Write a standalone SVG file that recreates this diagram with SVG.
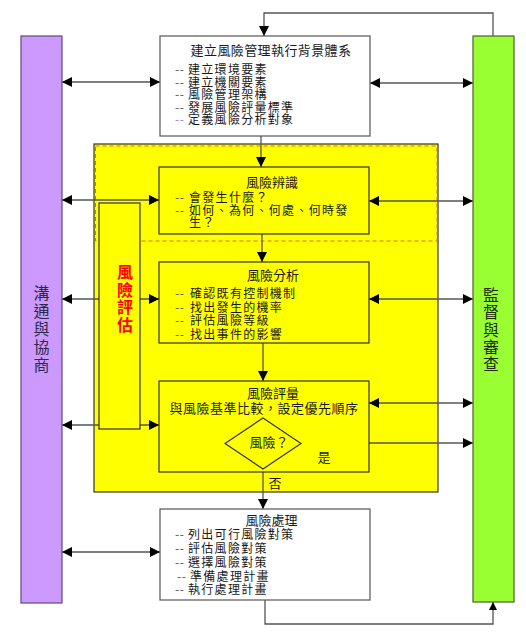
<svg xmlns="http://www.w3.org/2000/svg" width="526" height="639" viewBox="0 0 526 639">
<style>
text{font-family:"Noto Sans CJK TC","Noto Sans CJK SC",sans-serif;font-size:13px;fill:#1a1a1a}
.it{font-size:12px;letter-spacing:1.3px}
.mid{text-anchor:middle}
.dash{fill:#555;letter-spacing:0.5px}
.dash2{fill:#b07cc0;letter-spacing:0.5px}
.wbox{fill:#fff;stroke:#555;stroke-width:1.2}
.ybox{fill:#ffff00;stroke:#333;stroke-width:1.2}
.conn{fill:none;stroke:#555;stroke-width:1.3}
.v{font-size:16px;writing-mode:vertical-rl}
.red{font-weight:bold;fill:#ff0000}
</style>
<defs>
<marker id="ah" markerUnits="userSpaceOnUse" markerWidth="10" markerHeight="10" refX="10" refY="5" orient="auto-start-reverse">
<path d="M0,0 L10,5 L0,10 z" fill="#000"/>
</marker>
<marker id="ahs" markerUnits="userSpaceOnUse" markerWidth="8" markerHeight="8" refX="8" refY="4" orient="auto-start-reverse">
<path d="M0,0 L8,4 L0,8 z" fill="#000"/>
</marker>
</defs>
<rect width="526" height="639" fill="#fff"/>

<g id="assessment-area">
<rect x="94" y="144" width="344" height="348" fill="#ffff00" stroke="#333" stroke-width="1.2"/>
<rect x="95.5" y="146" width="341.5" height="95" fill="none" stroke="#e07020" stroke-width="1" stroke-dasharray="4,3"/>
</g>

<g id="connectors">
<path class="conn" d="M493,36 V13 H264 V36" marker-end="url(#ah)"/>
<path class="conn" d="M265,600 V624 H493 V602" marker-end="url(#ahs)"/>
<path class="conn" d="M261,136 V167" marker-end="url(#ah)"/>
<path class="conn" d="M262,234 V262" marker-end="url(#ah)"/>
<path class="conn" d="M263,343 V381" marker-end="url(#ah)"/>
<path class="conn" d="M263,469 V509" marker-end="url(#ah)"/>
<path class="conn" d="M301,443 H473" marker-end="url(#ah)"/>
<path class="conn" d="M62,82 H160" marker-start="url(#ah)" marker-end="url(#ah)"/>
<path class="conn" d="M62,200 H159" marker-start="url(#ah)" marker-end="url(#ah)"/>
<path class="conn" d="M62,299 H159" marker-start="url(#ah)" marker-end="url(#ah)"/>
<path class="conn" d="M62,425 H159" marker-start="url(#ah)" marker-end="url(#ah)"/>
<path class="conn" d="M62,552 H160" marker-start="url(#ah)" marker-end="url(#ah)"/>
<path class="conn" d="M370,83 H473" marker-start="url(#ah)" marker-end="url(#ah)"/>
<path class="conn" d="M369,201 H473" marker-start="url(#ah)" marker-end="url(#ah)"/>
<path class="conn" d="M369,299 H473" marker-start="url(#ah)" marker-end="url(#ah)"/>
<path class="conn" d="M369,403 H473" marker-start="url(#ah)" marker-end="url(#ah)"/>
</g>

<g id="communication">
<rect x="21" y="36" width="41" height="567" fill="#cc99ff" stroke="#5f497a" stroke-width="1.2"/>
<text class="v" x="41.5" y="285" style="fill:#2a2a4a;letter-spacing:2px">溝通與協商</text>
</g>

<g id="monitoring">
<rect x="473" y="36" width="41" height="566" fill="#99ff33" stroke="#4f6228" stroke-width="1.2"/>
<text class="v" x="491" y="287" style="fill:#1f2a0a;letter-spacing:1.3px">監督與審查</text>
</g>

<g id="context">
<rect class="wbox" x="160" y="36" width="210" height="100"/>
<text class="mid" x="271" y="55" style="letter-spacing:0.4px">建立風險管理執行背景體系</text>
<text class="it" x="175" y="74"><tspan class="dash">--</tspan><tspan x="188">建立環境要素</tspan></text>
<text class="it" x="175" y="86.5"><tspan class="dash">--</tspan><tspan x="188">建立機關要素</tspan></text>
<text class="it" x="175" y="99"><tspan class="dash">--</tspan><tspan x="188">風險管理架構</tspan></text>
<text class="it" x="175" y="111.5"><tspan class="dash">--</tspan><tspan x="188">發展風險評量標準</tspan></text>
<text class="it" x="175" y="124"><tspan class="dash2">--</tspan><tspan x="188">定義風險分析對象</tspan></text>
</g>

<g id="assessment-label">
<rect class="ybox" x="99" y="203" width="41" height="226"/>
<text class="v red" x="125" y="264" style="letter-spacing:1.7px">風險評估</text>
</g>

<g id="identification">
<rect class="ybox" x="159" y="167" width="210" height="67"/>
<text class="mid" x="272" y="187">風險辨識</text>
<text class="it" x="175" y="202"><tspan class="dash">--</tspan><tspan x="189">會發生什麼？</tspan></text>
<text class="it" x="175" y="214.5"><tspan class="dash">--</tspan><tspan x="189">如何、為何、何處、何時發</tspan></text>
<text class="it" x="189" y="227">生？</text>
</g>

<g id="analysis">
<rect class="ybox" x="159" y="262" width="210" height="81"/>
<text class="mid" x="273" y="280">風險分析</text>
<text class="it" x="175" y="298"><tspan class="dash">--</tspan><tspan x="190">確認既有控制機制</tspan></text>
<text class="it" x="175" y="311.5"><tspan class="dash">--</tspan><tspan x="190">找出發生的機率</tspan></text>
<text class="it" x="175" y="325"><tspan class="dash">--</tspan><tspan x="190">評估風險等級</tspan></text>
<text class="it" x="175" y="339"><tspan class="dash">--</tspan><tspan x="190">找出事件的影響</tspan></text>
</g>

<g id="evaluation">
<rect class="ybox" x="159" y="381" width="210" height="91"/>
<text class="mid" x="273" y="398">風險評量</text>
<text class="mid" x="264" y="413" style="letter-spacing:0.5px">與風險基準比較，設定優先順序</text>
<polygon points="263,418 301,443.5 263,469 225,443.5" fill="#ffff00" stroke="#333" stroke-width="1.2"/>
<text class="mid" x="269" y="447">風險？</text>
<text class="mid" x="324" y="462">是</text>
<text class="mid" x="275" y="488">否</text>
</g>

<g id="treatment">
<rect class="wbox" x="160" y="509" width="210" height="91"/>
<text class="mid" x="271.5" y="525">風險處理</text>
<text class="it" x="175" y="539"><tspan class="dash">--</tspan><tspan x="188">列出可行風險對策</tspan></text>
<text class="it" x="175" y="553"><tspan class="dash">--</tspan><tspan x="188">評估風險對策</tspan></text>
<text class="it" x="175" y="567"><tspan class="dash">--</tspan><tspan x="188">選擇風險對策</tspan></text>
<text class="it" x="177" y="580.5"><tspan class="dash">--</tspan><tspan x="190">準備處理計畫</tspan></text>
<text class="it" x="175" y="594"><tspan class="dash">--</tspan><tspan x="188">執行處理計畫</tspan></text>
</g>
</svg>
